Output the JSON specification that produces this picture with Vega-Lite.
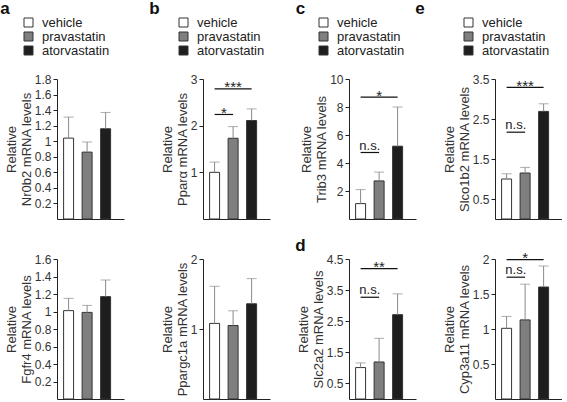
{
  "$schema": "https://vega.github.io/schema/vega-lite/v6.json",
  "background": "white",
  "padding": {"left": 0, "top": 0, "right": 0, "bottom": 0},
  "datasets": {
    "bars": [
      {"panel": "Nr0b2", "group": "vehicle", "mean": 1.04, "upper": 1.31},
      {"panel": "Nr0b2", "group": "pravastatin", "mean": 0.86, "upper": 0.99},
      {"panel": "Nr0b2", "group": "atorvastatin", "mean": 1.16, "upper": 1.37},
      {"panel": "Ppara", "group": "vehicle", "mean": 1.0, "upper": 1.22},
      {"panel": "Ppara", "group": "pravastatin", "mean": 1.73, "upper": 1.98},
      {"panel": "Ppara", "group": "atorvastatin", "mean": 2.11, "upper": 2.36},
      {"panel": "Trib3", "group": "vehicle", "mean": 1.1, "upper": 2.1},
      {"panel": "Trib3", "group": "pravastatin", "mean": 2.72, "upper": 3.35},
      {"panel": "Trib3", "group": "atorvastatin", "mean": 5.2, "upper": 8.0},
      {"panel": "Slco1b2", "group": "vehicle", "mean": 1.0, "upper": 1.13},
      {"panel": "Slco1b2", "group": "pravastatin", "mean": 1.15, "upper": 1.29},
      {"panel": "Slco1b2", "group": "atorvastatin", "mean": 2.69, "upper": 2.88},
      {"panel": "Fgfr4", "group": "vehicle", "mean": 1.01, "upper": 1.15},
      {"panel": "Fgfr4", "group": "pravastatin", "mean": 0.99, "upper": 1.07},
      {"panel": "Fgfr4", "group": "atorvastatin", "mean": 1.17, "upper": 1.36},
      {"panel": "Ppargc1a", "group": "vehicle", "mean": 1.08, "upper": 1.61},
      {"panel": "Ppargc1a", "group": "pravastatin", "mean": 1.05, "upper": 1.26},
      {"panel": "Ppargc1a", "group": "atorvastatin", "mean": 1.36, "upper": 1.72},
      {"panel": "Slc2a2", "group": "vehicle", "mean": 1.01, "upper": 1.16},
      {"panel": "Slc2a2", "group": "pravastatin", "mean": 1.19, "upper": 1.95},
      {"panel": "Slc2a2", "group": "atorvastatin", "mean": 2.71, "upper": 3.38},
      {"panel": "Cyp3a11", "group": "vehicle", "mean": 1.01, "upper": 1.18},
      {"panel": "Cyp3a11", "group": "pravastatin", "mean": 1.13, "upper": 1.64},
      {"panel": "Cyp3a11", "group": "atorvastatin", "mean": 1.6, "upper": 1.9}
    ],
    "sig": [
      {"panel": "Ppara", "group": "vehicle", "group2": "pravastatin", "y": 2.24, "label": "*", "kind": "starnarrow", "tx": "vehicle"},
      {"panel": "Ppara", "group": "vehicle", "group2": "atorvastatin", "y": 2.79, "label": "***", "kind": "starwide", "tx": "pravastatin"},
      {"panel": "Trib3", "group": "vehicle", "group2": "pravastatin", "y": 4.75, "label": "n.s.", "kind": "ns", "tx": "vehicle"},
      {"panel": "Trib3", "group": "vehicle", "group2": "atorvastatin", "y": 8.7, "label": "*", "kind": "starwide", "tx": "pravastatin"},
      {"panel": "Slco1b2", "group": "vehicle", "group2": "pravastatin", "y": 2.17, "label": "n.s.", "kind": "ns", "tx": "vehicle"},
      {"panel": "Slco1b2", "group": "vehicle", "group2": "atorvastatin", "y": 3.29, "label": "***", "kind": "starwide", "tx": "pravastatin"},
      {"panel": "Slc2a2", "group": "vehicle", "group2": "pravastatin", "y": 3.27, "label": "n.s.", "kind": "ns", "tx": "vehicle"},
      {"panel": "Slc2a2", "group": "vehicle", "group2": "atorvastatin", "y": 4.19, "label": "**", "kind": "starwide", "tx": "pravastatin"},
      {"panel": "Cyp3a11", "group": "vehicle", "group2": "pravastatin", "y": 1.74, "label": "n.s.", "kind": "ns", "tx": "vehicle"},
      {"panel": "Cyp3a11", "group": "vehicle", "group2": "atorvastatin", "y": 1.99, "label": "*", "kind": "starwide", "tx": "pravastatin"}
    ]
  },
  "columns": 4,
  "bounds": "flush",
  "spacing": {"row": 40, "column": 79},
  "resolve": {"legend": {"color": "independent"}},
  "concat": [
    {
      "width": 67, "height": 140,
      "title": {"text": "a", "dx": -5},
      "layer": [
        {"data": {"name": "bars"}, "transform": [{"filter": "datum.panel === 'Nr0b2'"}],
          "mark": {"type": "bar", "stroke": "#333", "strokeWidth": 1},
          "encoding": {
            "x": {"field": "group", "type": "nominal", "scale": {"domain": ["vehicle", "pravastatin", "atorvastatin"], "paddingInner": 0.46, "paddingOuter": 0.54, "align": 0.33}, "axis": {"labels": false, "ticks": false, "title": null}},
            "y": {"field": "mean", "type": "quantitative", "scale": {"domain": [0, 1.8], "nice": false}, "axis": {"values": [0.2, 0.4, 0.6, 0.8, 1, 1.2, 1.4, 1.6, 1.8], "tickCount": 30, "format": ".1~f", "labelOverlap": false, "title": ["Relative", "Nr0b2 mRNA levels"]}},
            "color": {"field": "group", "type": "nominal", "scale": {"domain": ["vehicle", "pravastatin", "atorvastatin"], "range": ["#ffffff", "#7f7f7f", "#1e1e1e"]}, "legend": {"title": null, "legendX": -35, "legendY": -63}}
          }},
        {"data": {"name": "bars"}, "transform": [{"filter": "datum.panel === 'Nr0b2'"}],
          "mark": {"type": "rule", "color": "#8a8a8a"},
          "encoding": {
            "x": {"field": "group", "type": "nominal", "scale": {"domain": ["vehicle", "pravastatin", "atorvastatin"]}},
            "y": {"field": "mean", "type": "quantitative"}, "y2": {"field": "upper"}}},
        {"data": {"name": "bars"}, "transform": [{"filter": "datum.panel === 'Nr0b2'"}],
          "mark": {"type": "tick", "color": "#8a8a8a", "size": 10, "thickness": 1},
          "encoding": {
            "x": {"field": "group", "type": "nominal", "scale": {"domain": ["vehicle", "pravastatin", "atorvastatin"]}},
            "y": {"field": "upper", "type": "quantitative"}}}
      ]
    },
    {
      "width": 67, "height": 140,
      "title": {"text": "b", "dx": -12},
      "layer": [
        {"data": {"name": "bars"}, "transform": [{"filter": "datum.panel === 'Ppara'"}],
          "mark": {"type": "bar", "stroke": "#333", "strokeWidth": 1},
          "encoding": {
            "x": {"field": "group", "type": "nominal", "scale": {"domain": ["vehicle", "pravastatin", "atorvastatin"], "paddingInner": 0.46, "paddingOuter": 0.54, "align": 0.33}, "axis": {"labels": false, "ticks": false, "title": null}},
            "y": {"field": "mean", "type": "quantitative", "scale": {"domain": [0, 3], "nice": false}, "axis": {"values": [1, 2, 3], "tickCount": 30, "format": ".1~f", "labelOverlap": false, "title": ["Relative", "Pparα mRNA levels"]}},
            "color": {"field": "group", "type": "nominal", "scale": {"domain": ["vehicle", "pravastatin", "atorvastatin"], "range": ["#ffffff", "#7f7f7f", "#1e1e1e"]}, "legend": {"title": null, "legendX": -26, "legendY": -63}}
          }},
        {"data": {"name": "bars"}, "transform": [{"filter": "datum.panel === 'Ppara'"}],
          "mark": {"type": "rule", "color": "#8a8a8a"},
          "encoding": {
            "x": {"field": "group", "type": "nominal", "scale": {"domain": ["vehicle", "pravastatin", "atorvastatin"]}},
            "y": {"field": "mean", "type": "quantitative"}, "y2": {"field": "upper"}}},
        {"data": {"name": "bars"}, "transform": [{"filter": "datum.panel === 'Ppara'"}],
          "mark": {"type": "tick", "color": "#8a8a8a", "size": 10, "thickness": 1},
          "encoding": {
            "x": {"field": "group", "type": "nominal", "scale": {"domain": ["vehicle", "pravastatin", "atorvastatin"]}},
            "y": {"field": "upper", "type": "quantitative"}}},
        {"data": {"name": "sig"}, "transform": [{"filter": "datum.panel === 'Ppara'"}],
          "mark": {"type": "rule", "color": "#111", "strokeWidth": 1.2},
          "encoding": {
            "x": {"field": "group", "type": "nominal", "scale": {"domain": ["vehicle", "pravastatin", "atorvastatin"]}},
            "x2": {"field": "group2"},
            "y": {"field": "y", "type": "quantitative"}}},
        {"data": {"name": "sig"}, "transform": [{"filter": "datum.panel === 'Ppara' && datum.kind === 'starnarrow'"}],
          "mark": {"type": "text", "dx": 9.25, "dy": 3.5, "baseline": "alphabetic", "fontSize": 15, "color": "#222"},
          "encoding": {
            "x": {"field": "tx", "type": "nominal", "scale": {"domain": ["vehicle", "pravastatin", "atorvastatin"]}},
            "y": {"field": "y", "type": "quantitative"}, "text": {"field": "label"}}},
        {"data": {"name": "sig"}, "transform": [{"filter": "datum.panel === 'Ppara' && datum.kind === 'starwide'"}],
          "mark": {"type": "text", "dy": 3.5, "baseline": "alphabetic", "fontSize": 15, "color": "#222"},
          "encoding": {
            "x": {"field": "tx", "type": "nominal", "scale": {"domain": ["vehicle", "pravastatin", "atorvastatin"]}},
            "y": {"field": "y", "type": "quantitative"}, "text": {"field": "label"}}}
      ]
    },
    {
      "width": 67, "height": 140,
      "title": {"text": "c", "dx": -5},
      "layer": [
        {"data": {"name": "bars"}, "transform": [{"filter": "datum.panel === 'Trib3'"}],
          "mark": {"type": "bar", "stroke": "#333", "strokeWidth": 1},
          "encoding": {
            "x": {"field": "group", "type": "nominal", "scale": {"domain": ["vehicle", "pravastatin", "atorvastatin"], "paddingInner": 0.46, "paddingOuter": 0.54, "align": 0.33}, "axis": {"labels": false, "ticks": false, "title": null}},
            "y": {"field": "mean", "type": "quantitative", "scale": {"domain": [0, 10], "nice": false}, "axis": {"values": [2, 4, 6, 8, 10], "tickCount": 30, "format": ".1~f", "labelOverlap": false, "title": ["Relative", "Trib3 mRNA levels"]}},
            "color": {"field": "group", "type": "nominal", "scale": {"domain": ["vehicle", "pravastatin", "atorvastatin"], "range": ["#ffffff", "#7f7f7f", "#1e1e1e"]}, "legend": {"title": null, "legendX": -32, "legendY": -63}}
          }},
        {"data": {"name": "bars"}, "transform": [{"filter": "datum.panel === 'Trib3'"}],
          "mark": {"type": "rule", "color": "#8a8a8a"},
          "encoding": {
            "x": {"field": "group", "type": "nominal", "scale": {"domain": ["vehicle", "pravastatin", "atorvastatin"]}},
            "y": {"field": "mean", "type": "quantitative"}, "y2": {"field": "upper"}}},
        {"data": {"name": "bars"}, "transform": [{"filter": "datum.panel === 'Trib3'"}],
          "mark": {"type": "tick", "color": "#8a8a8a", "size": 10, "thickness": 1},
          "encoding": {
            "x": {"field": "group", "type": "nominal", "scale": {"domain": ["vehicle", "pravastatin", "atorvastatin"]}},
            "y": {"field": "upper", "type": "quantitative"}}},
        {"data": {"name": "sig"}, "transform": [{"filter": "datum.panel === 'Trib3'"}],
          "mark": {"type": "rule", "color": "#111", "strokeWidth": 1.2},
          "encoding": {
            "x": {"field": "group", "type": "nominal", "scale": {"domain": ["vehicle", "pravastatin", "atorvastatin"]}},
            "x2": {"field": "group2"},
            "y": {"field": "y", "type": "quantitative"}}},
        {"data": {"name": "sig"}, "transform": [{"filter": "datum.panel === 'Trib3' && datum.kind === 'ns'"}],
          "mark": {"type": "text", "dx": 9.25, "dy": -3, "baseline": "alphabetic", "fontSize": 13, "color": "#222"},
          "encoding": {
            "x": {"field": "tx", "type": "nominal", "scale": {"domain": ["vehicle", "pravastatin", "atorvastatin"]}},
            "y": {"field": "y", "type": "quantitative"}, "text": {"field": "label"}}},
        {"data": {"name": "sig"}, "transform": [{"filter": "datum.panel === 'Trib3' && datum.kind === 'starwide'"}],
          "mark": {"type": "text", "dy": 3.5, "baseline": "alphabetic", "fontSize": 15, "color": "#222"},
          "encoding": {
            "x": {"field": "tx", "type": "nominal", "scale": {"domain": ["vehicle", "pravastatin", "atorvastatin"]}},
            "y": {"field": "y", "type": "quantitative"}, "text": {"field": "label"}}}
      ]
    },
    {
      "width": 67, "height": 140,
      "title": {"text": "e", "dx": -28},
      "layer": [
        {"data": {"name": "bars"}, "transform": [{"filter": "datum.panel === 'Slco1b2'"}],
          "mark": {"type": "bar", "stroke": "#333", "strokeWidth": 1},
          "encoding": {
            "x": {"field": "group", "type": "nominal", "scale": {"domain": ["vehicle", "pravastatin", "atorvastatin"], "paddingInner": 0.46, "paddingOuter": 0.54, "align": 0.33}, "axis": {"labels": false, "ticks": false, "title": null}},
            "y": {"field": "mean", "type": "quantitative", "scale": {"domain": [0, 3.5], "nice": false}, "axis": {"values": [0.5, 1.5, 2.5, 3.5], "tickCount": 30, "format": ".1~f", "labelOverlap": false, "title": ["Relative", "Slco1b2 mRNA levels"]}},
            "color": {"field": "group", "type": "nominal", "scale": {"domain": ["vehicle", "pravastatin", "atorvastatin"], "range": ["#ffffff", "#7f7f7f", "#1e1e1e"]}, "legend": {"title": null, "legendX": -33, "legendY": -63}}
          }},
        {"data": {"name": "bars"}, "transform": [{"filter": "datum.panel === 'Slco1b2'"}],
          "mark": {"type": "rule", "color": "#8a8a8a"},
          "encoding": {
            "x": {"field": "group", "type": "nominal", "scale": {"domain": ["vehicle", "pravastatin", "atorvastatin"]}},
            "y": {"field": "mean", "type": "quantitative"}, "y2": {"field": "upper"}}},
        {"data": {"name": "bars"}, "transform": [{"filter": "datum.panel === 'Slco1b2'"}],
          "mark": {"type": "tick", "color": "#8a8a8a", "size": 10, "thickness": 1},
          "encoding": {
            "x": {"field": "group", "type": "nominal", "scale": {"domain": ["vehicle", "pravastatin", "atorvastatin"]}},
            "y": {"field": "upper", "type": "quantitative"}}},
        {"data": {"name": "sig"}, "transform": [{"filter": "datum.panel === 'Slco1b2'"}],
          "mark": {"type": "rule", "color": "#111", "strokeWidth": 1.2},
          "encoding": {
            "x": {"field": "group", "type": "nominal", "scale": {"domain": ["vehicle", "pravastatin", "atorvastatin"]}},
            "x2": {"field": "group2"},
            "y": {"field": "y", "type": "quantitative"}}},
        {"data": {"name": "sig"}, "transform": [{"filter": "datum.panel === 'Slco1b2' && datum.kind === 'ns'"}],
          "mark": {"type": "text", "dx": 9.25, "dy": -3, "baseline": "alphabetic", "fontSize": 13, "color": "#222"},
          "encoding": {
            "x": {"field": "tx", "type": "nominal", "scale": {"domain": ["vehicle", "pravastatin", "atorvastatin"]}},
            "y": {"field": "y", "type": "quantitative"}, "text": {"field": "label"}}},
        {"data": {"name": "sig"}, "transform": [{"filter": "datum.panel === 'Slco1b2' && datum.kind === 'starwide'"}],
          "mark": {"type": "text", "dy": 3.5, "baseline": "alphabetic", "fontSize": 15, "color": "#222"},
          "encoding": {
            "x": {"field": "tx", "type": "nominal", "scale": {"domain": ["vehicle", "pravastatin", "atorvastatin"]}},
            "y": {"field": "y", "type": "quantitative"}, "text": {"field": "label"}}}
      ]
    },
    {
      "width": 67, "height": 140,
      "layer": [
        {"data": {"name": "bars"}, "transform": [{"filter": "datum.panel === 'Fgfr4'"}],
          "mark": {"type": "bar", "stroke": "#333", "strokeWidth": 1},
          "encoding": {
            "x": {"field": "group", "type": "nominal", "scale": {"domain": ["vehicle", "pravastatin", "atorvastatin"], "paddingInner": 0.46, "paddingOuter": 0.54, "align": 0.33}, "axis": {"labels": false, "ticks": false, "title": null}},
            "y": {"field": "mean", "type": "quantitative", "scale": {"domain": [0, 1.6], "nice": false}, "axis": {"values": [0.2, 0.4, 0.6, 0.8, 1, 1.2, 1.4, 1.6], "tickCount": 30, "format": ".1~f", "labelOverlap": false, "title": ["Relative", "Fgfr4 mRNA levels"]}},
            "color": {"field": "group", "type": "nominal", "scale": {"domain": ["vehicle", "pravastatin", "atorvastatin"], "range": ["#ffffff", "#7f7f7f", "#1e1e1e"]}, "legend": null}
          }},
        {"data": {"name": "bars"}, "transform": [{"filter": "datum.panel === 'Fgfr4'"}],
          "mark": {"type": "rule", "color": "#8a8a8a"},
          "encoding": {
            "x": {"field": "group", "type": "nominal", "scale": {"domain": ["vehicle", "pravastatin", "atorvastatin"]}},
            "y": {"field": "mean", "type": "quantitative"}, "y2": {"field": "upper"}}},
        {"data": {"name": "bars"}, "transform": [{"filter": "datum.panel === 'Fgfr4'"}],
          "mark": {"type": "tick", "color": "#8a8a8a", "size": 10, "thickness": 1},
          "encoding": {
            "x": {"field": "group", "type": "nominal", "scale": {"domain": ["vehicle", "pravastatin", "atorvastatin"]}},
            "y": {"field": "upper", "type": "quantitative"}}}
      ]
    },
    {
      "width": 67, "height": 140,
      "layer": [
        {"data": {"name": "bars"}, "transform": [{"filter": "datum.panel === 'Ppargc1a'"}],
          "mark": {"type": "bar", "stroke": "#333", "strokeWidth": 1},
          "encoding": {
            "x": {"field": "group", "type": "nominal", "scale": {"domain": ["vehicle", "pravastatin", "atorvastatin"], "paddingInner": 0.46, "paddingOuter": 0.54, "align": 0.33}, "axis": {"labels": false, "ticks": false, "title": null}},
            "y": {"field": "mean", "type": "quantitative", "scale": {"domain": [0, 2], "nice": false}, "axis": {"values": [1, 2], "tickCount": 30, "format": ".1~f", "labelOverlap": false, "title": ["Relative", "Ppargc1a mRNA levels"]}},
            "color": {"field": "group", "type": "nominal", "scale": {"domain": ["vehicle", "pravastatin", "atorvastatin"], "range": ["#ffffff", "#7f7f7f", "#1e1e1e"]}, "legend": null}
          }},
        {"data": {"name": "bars"}, "transform": [{"filter": "datum.panel === 'Ppargc1a'"}],
          "mark": {"type": "rule", "color": "#8a8a8a"},
          "encoding": {
            "x": {"field": "group", "type": "nominal", "scale": {"domain": ["vehicle", "pravastatin", "atorvastatin"]}},
            "y": {"field": "mean", "type": "quantitative"}, "y2": {"field": "upper"}}},
        {"data": {"name": "bars"}, "transform": [{"filter": "datum.panel === 'Ppargc1a'"}],
          "mark": {"type": "tick", "color": "#8a8a8a", "size": 10, "thickness": 1},
          "encoding": {
            "x": {"field": "group", "type": "nominal", "scale": {"domain": ["vehicle", "pravastatin", "atorvastatin"]}},
            "y": {"field": "upper", "type": "quantitative"}}}
      ]
    },
    {
      "width": 67, "height": 140,
      "title": {"text": "d", "dx": -2},
      "layer": [
        {"data": {"name": "bars"}, "transform": [{"filter": "datum.panel === 'Slc2a2'"}],
          "mark": {"type": "bar", "stroke": "#333", "strokeWidth": 1},
          "encoding": {
            "x": {"field": "group", "type": "nominal", "scale": {"domain": ["vehicle", "pravastatin", "atorvastatin"], "paddingInner": 0.46, "paddingOuter": 0.54, "align": 0.33}, "axis": {"labels": false, "ticks": false, "title": null}},
            "y": {"field": "mean", "type": "quantitative", "scale": {"domain": [0, 4.5], "nice": false}, "axis": {"values": [0.5, 1.5, 2.5, 3.5, 4.5], "tickCount": 30, "format": ".1~f", "labelOverlap": false, "title": ["Relative", "Slc2a2 mRNA levels"]}},
            "color": {"field": "group", "type": "nominal", "scale": {"domain": ["vehicle", "pravastatin", "atorvastatin"], "range": ["#ffffff", "#7f7f7f", "#1e1e1e"]}, "legend": null}
          }},
        {"data": {"name": "bars"}, "transform": [{"filter": "datum.panel === 'Slc2a2'"}],
          "mark": {"type": "rule", "color": "#8a8a8a"},
          "encoding": {
            "x": {"field": "group", "type": "nominal", "scale": {"domain": ["vehicle", "pravastatin", "atorvastatin"]}},
            "y": {"field": "mean", "type": "quantitative"}, "y2": {"field": "upper"}}},
        {"data": {"name": "bars"}, "transform": [{"filter": "datum.panel === 'Slc2a2'"}],
          "mark": {"type": "tick", "color": "#8a8a8a", "size": 10, "thickness": 1},
          "encoding": {
            "x": {"field": "group", "type": "nominal", "scale": {"domain": ["vehicle", "pravastatin", "atorvastatin"]}},
            "y": {"field": "upper", "type": "quantitative"}}},
        {"data": {"name": "sig"}, "transform": [{"filter": "datum.panel === 'Slc2a2'"}],
          "mark": {"type": "rule", "color": "#111", "strokeWidth": 1.2},
          "encoding": {
            "x": {"field": "group", "type": "nominal", "scale": {"domain": ["vehicle", "pravastatin", "atorvastatin"]}},
            "x2": {"field": "group2"},
            "y": {"field": "y", "type": "quantitative"}}},
        {"data": {"name": "sig"}, "transform": [{"filter": "datum.panel === 'Slc2a2' && datum.kind === 'ns'"}],
          "mark": {"type": "text", "dx": 9.25, "dy": -3, "baseline": "alphabetic", "fontSize": 13, "color": "#222"},
          "encoding": {
            "x": {"field": "tx", "type": "nominal", "scale": {"domain": ["vehicle", "pravastatin", "atorvastatin"]}},
            "y": {"field": "y", "type": "quantitative"}, "text": {"field": "label"}}},
        {"data": {"name": "sig"}, "transform": [{"filter": "datum.panel === 'Slc2a2' && datum.kind === 'starwide'"}],
          "mark": {"type": "text", "dy": 3.5, "baseline": "alphabetic", "fontSize": 15, "color": "#222"},
          "encoding": {
            "x": {"field": "tx", "type": "nominal", "scale": {"domain": ["vehicle", "pravastatin", "atorvastatin"]}},
            "y": {"field": "y", "type": "quantitative"}, "text": {"field": "label"}}}
      ]
    },
    {
      "width": 67, "height": 140,
      "layer": [
        {"data": {"name": "bars"}, "transform": [{"filter": "datum.panel === 'Cyp3a11'"}],
          "mark": {"type": "bar", "stroke": "#333", "strokeWidth": 1},
          "encoding": {
            "x": {"field": "group", "type": "nominal", "scale": {"domain": ["vehicle", "pravastatin", "atorvastatin"], "paddingInner": 0.46, "paddingOuter": 0.54, "align": 0.33}, "axis": {"labels": false, "ticks": false, "title": null}},
            "y": {"field": "mean", "type": "quantitative", "scale": {"domain": [0, 2], "nice": false}, "axis": {"values": [0.5, 1, 1.5, 2], "tickCount": 30, "format": ".1~f", "labelOverlap": false, "title": ["Relative", "Cyp3a11 mRNA levels"]}},
            "color": {"field": "group", "type": "nominal", "scale": {"domain": ["vehicle", "pravastatin", "atorvastatin"], "range": ["#ffffff", "#7f7f7f", "#1e1e1e"]}, "legend": null}
          }},
        {"data": {"name": "bars"}, "transform": [{"filter": "datum.panel === 'Cyp3a11'"}],
          "mark": {"type": "rule", "color": "#8a8a8a"},
          "encoding": {
            "x": {"field": "group", "type": "nominal", "scale": {"domain": ["vehicle", "pravastatin", "atorvastatin"]}},
            "y": {"field": "mean", "type": "quantitative"}, "y2": {"field": "upper"}}},
        {"data": {"name": "bars"}, "transform": [{"filter": "datum.panel === 'Cyp3a11'"}],
          "mark": {"type": "tick", "color": "#8a8a8a", "size": 10, "thickness": 1},
          "encoding": {
            "x": {"field": "group", "type": "nominal", "scale": {"domain": ["vehicle", "pravastatin", "atorvastatin"]}},
            "y": {"field": "upper", "type": "quantitative"}}},
        {"data": {"name": "sig"}, "transform": [{"filter": "datum.panel === 'Cyp3a11'"}],
          "mark": {"type": "rule", "color": "#111", "strokeWidth": 1.2},
          "encoding": {
            "x": {"field": "group", "type": "nominal", "scale": {"domain": ["vehicle", "pravastatin", "atorvastatin"]}},
            "x2": {"field": "group2"},
            "y": {"field": "y", "type": "quantitative"}}},
        {"data": {"name": "sig"}, "transform": [{"filter": "datum.panel === 'Cyp3a11' && datum.kind === 'ns'"}],
          "mark": {"type": "text", "dx": 9.25, "dy": -3, "baseline": "alphabetic", "fontSize": 13, "color": "#222"},
          "encoding": {
            "x": {"field": "tx", "type": "nominal", "scale": {"domain": ["vehicle", "pravastatin", "atorvastatin"]}},
            "y": {"field": "y", "type": "quantitative"}, "text": {"field": "label"}}},
        {"data": {"name": "sig"}, "transform": [{"filter": "datum.panel === 'Cyp3a11' && datum.kind === 'starwide'"}],
          "mark": {"type": "text", "dy": 3.5, "baseline": "alphabetic", "fontSize": 15, "color": "#222"},
          "encoding": {
            "x": {"field": "tx", "type": "nominal", "scale": {"domain": ["vehicle", "pravastatin", "atorvastatin"]}},
            "y": {"field": "y", "type": "quantitative"}, "text": {"field": "label"}}}
      ]
    }
  ],
  "config": {
    "view": {"stroke": null},
    "font": "Liberation Sans",
    "axis": {"labelFontSize": 12, "labelOverlap": false, "titleFontSize": 13, "titleFontWeight": "normal", "labelColor": "#333", "titleColor": "#333", "domainColor": "#222", "tickColor": "#222", "grid": false, "tickSize": 4, "labelPadding": 2, "titlePadding": 1, "titleLineHeight": 15},
    "legend": {"orient": "none", "symbolType": "square", "symbolSize": 81, "symbolStrokeColor": "#333", "symbolStrokeWidth": 1, "symbolOpacity": 1, "labelFontSize": 13, "labelColor": "#222", "rowPadding": 0, "labelOffset": 7, "padding": 0},
    "title": {"fontSize": 17, "fontWeight": "bold", "anchor": "start", "frame": "bounds", "offset": -2, "color": "#111"}
  }
}
